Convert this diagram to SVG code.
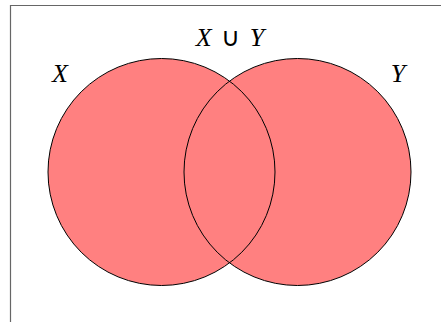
<svg xmlns="http://www.w3.org/2000/svg" width="441" height="322" viewBox="0 0 441 322">
<style>
.fill{fill:#ff8080;stroke:none}
.ol{fill:none;stroke:#000;stroke-width:1}
.lbl{font-family:"Liberation Serif",serif;font-size:26px;font-style:italic;fill:#000}
.op{font-style:normal}
</style>
<rect x="0" y="0" width="441" height="322" fill="#fff"/>
<path d="M10.5 322 V5.5 H441" fill="none" stroke="#666" stroke-width="1.2"/>
<g id="setX">
<circle class="fill" cx="161.5" cy="172" r="113.5"/>
</g>
<g id="setY">
<circle class="fill" cx="297.5" cy="172" r="113.5"/>
</g>
<g id="outlines">
<circle class="ol" cx="161.5" cy="172" r="113.5"/>
<circle class="ol" cx="297.5" cy="172" r="113.5"/>
</g>
<g id="labels">
<text class="lbl" x="60" y="82" text-anchor="middle">X</text>
<text class="lbl" x="398" y="82" text-anchor="middle">Y</text>
<text class="lbl" x="230" y="46" text-anchor="middle" word-spacing="3">X <tspan class="op">∪</tspan> Y</text>
</g>
</svg>
